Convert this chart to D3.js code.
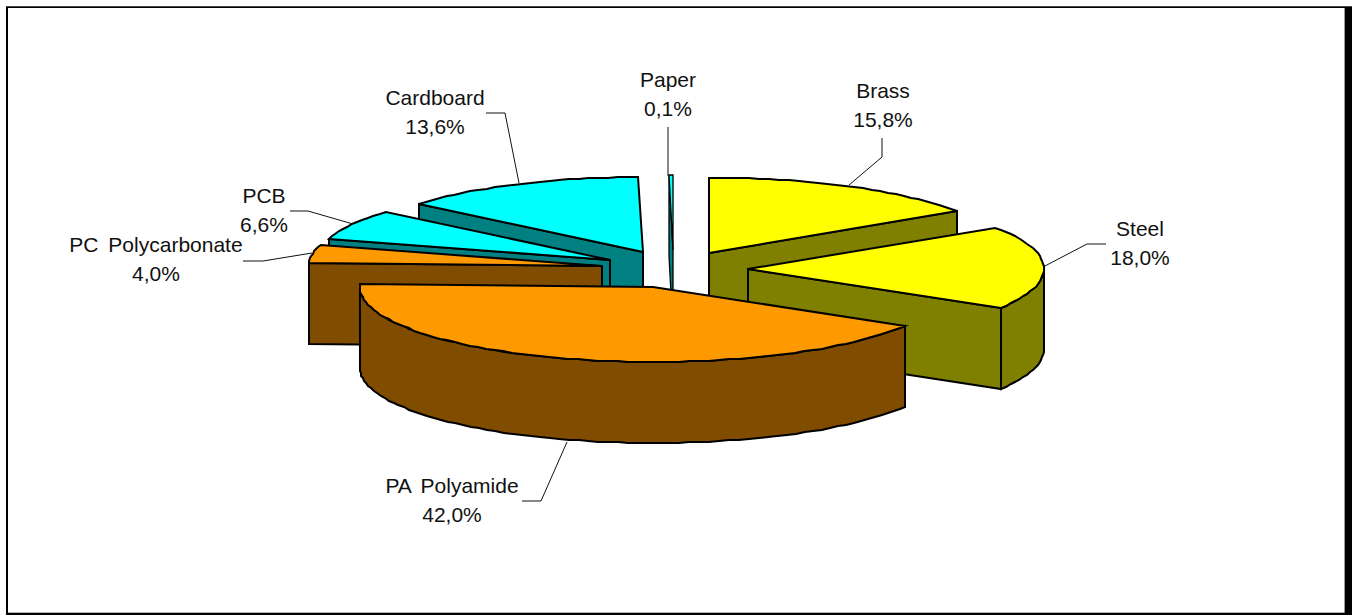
<!DOCTYPE html>
<html>
<head>
<meta charset="utf-8">
<script src="https://d3js.org/d3.v7.min.js"></script>
<style>
html,body{margin:0;padding:0;background:#fff;overflow:hidden}
svg{display:block}
text{font-family:"Liberation Sans",Arial,sans-serif;font-size:21px;word-spacing:4px;fill:#111;text-anchor:middle}
</style>
</head>
<body>
<script>
// ---- data ----
const categories = ["Brass","Steel","PA Polyamide","PC Polycarbonate","PCB","Cardboard","Paper"];
const shares     = [15.8, 18.0, 42.0, 4.0, 6.6, 13.6, 0.1];
const colorGroup = ["metal","metal","plastic","plastic","board","board","board"];
const drawOrder  = ["Brass","Steel","Cardboard","Paper","PCB","PC Polycarbonate","PA Polyamide"];

// ---- style and layout ----
const topColor  = d3.scaleOrdinal(["metal","plastic","board"],["#ffff00","#ff9900","#00ffff"]);
const sideColor = d3.scaleOrdinal(["metal","plastic","board"],["#808000","#804c00","#008080"]);
const W=1352,H=615,cx=674,cy=269,rxLeft=293,rxRight=296,ry=75,depth=81,explode=0.25;
const minDrawnShare=0.25; // keeps the thinnest slice visible as a sliver
const labelLayout = {
  "Brass":            {x:883, y:98,  leader:[[882,138],[882,157],[849,185]]},
  "Steel":            {x:1140,y:236, leader:[[1106,244],[1087,244],[1043,267]]},
  "PA Polyamide":     {x:452, y:493, leader:[[522,501],[541,501],[567,442]]},
  "PC Polycarbonate": {x:156, y:252, leader:[[243,261],[263,261],[312,253]]},
  "PCB":              {x:264, y:203, leader:[[290,211],[308,211],[353,224]]},
  "Cardboard":        {x:435, y:105, leader:[[486,113],[505,113],[519,183]]},
  "Paper":            {x:668, y:87,  leader:[[668,127],[668,176]]}
};

const pct = d3.formatLocale({decimal:",",thousands:".",grouping:[3],currency:["","€"]}).format(".1f");
const X = d3.scaleLinear().domain([-1,0,1]).range([cx-rxLeft,cx,cx+rxRight]);
const Y = d3.scaleLinear().domain([-1,1]).range([cy-ry,cy+ry]);

const svg = d3.select("body").append("svg").attr("width",W).attr("height",H);
// frame: thin on top and left, heavy on the right and bottom
svg.append("rect").attr("x",6).attr("y",6.3).attr("width",W-6).attr("height",H-6.3).attr("fill","#000");
svg.append("rect").attr("x",8).attr("y",8).attr("width",1336.6).attr("height",604.7).attr("fill","#fff");

const arcs = d3.pie().sort(null).value(d=>Math.max(d.share,minDrawnShare))(
  categories.map((name,i)=>({name,share:shares[i],group:colorGroup[i]})));

const line = d3.line();
const round = ([x,y])=>[Math.round(x),Math.round(y)];
const RIM_STEP = 2*Math.PI/180;

function rimAngles(a0,a1){
  const n=Math.max(1,Math.ceil((a1-a0)/RIM_STEP));
  return d3.range(n+1).map(i=>a0+(a1-a0)*i/n);
}

drawOrder.forEach(name=>{
  const a=arcs.find(d=>d.data.name===name);
  const mid=(a.startAngle+a.endAngle)/2;
  const ox=explode*Math.sin(mid), oy=-explode*Math.cos(mid);
  const pt=(ang,r=1,dz=0)=>[X(ox+r*Math.sin(ang)),Y(oy-r*Math.cos(ang))+dz];
  const apex=pt(0,0);
  const g=svg.append("g").attr("class","slice");
  const top=topColor(a.data.group), side=sideColor(a.data.group);
  const sw=a.data.share<minDrawnShare?1.3:2;
  const poly=(pts,fill)=>g.append("path").attr("d",line(pts)+"Z").attr("fill",fill)
     .attr("stroke","#000").attr("stroke-width",sw).attr("stroke-linejoin","miter");

  // radial cut faces: only the ones turned to the viewer
  const face=ang=>{
    const e=pt(ang);
    poly([apex,e,[e[0],e[1]+depth],[apex[0],apex[1]+depth]].map(round),side);
  };
  if(Math.sin(a.startAngle)<0) face(a.startAngle);
  if(Math.sin(a.endAngle)>0) face(a.endAngle);
  // outer wall: only the part facing the viewer
  const f0=Math.max(a.startAngle,Math.PI/2), f1=Math.min(a.endAngle,1.5*Math.PI);
  if(f1>f0){
    const angs=rimAngles(f0,f1);
    const up=angs.map(t=>pt(t)), down=angs.map(t=>pt(t,1,depth)).reverse();
    poly(up.concat(down).map(round),side);
  }
  // top face
  poly([apex].concat(rimAngles(a.startAngle,a.endAngle).map(t=>pt(t))).map(round),top);
});

// labels and leader lines
arcs.forEach(a=>{
  const l=labelLayout[a.data.name];
  svg.append("path").attr("d",d3.line()(l.leader)).attr("fill","none")
     .attr("stroke","#111").attr("stroke-width",1);
  svg.append("text").attr("x",l.x).attr("y",l.y).text(a.data.name);
  svg.append("text").attr("x",l.x).attr("y",l.y+28.5).text(pct(a.data.share)+"%");
});
</script>
</body>
</html>
